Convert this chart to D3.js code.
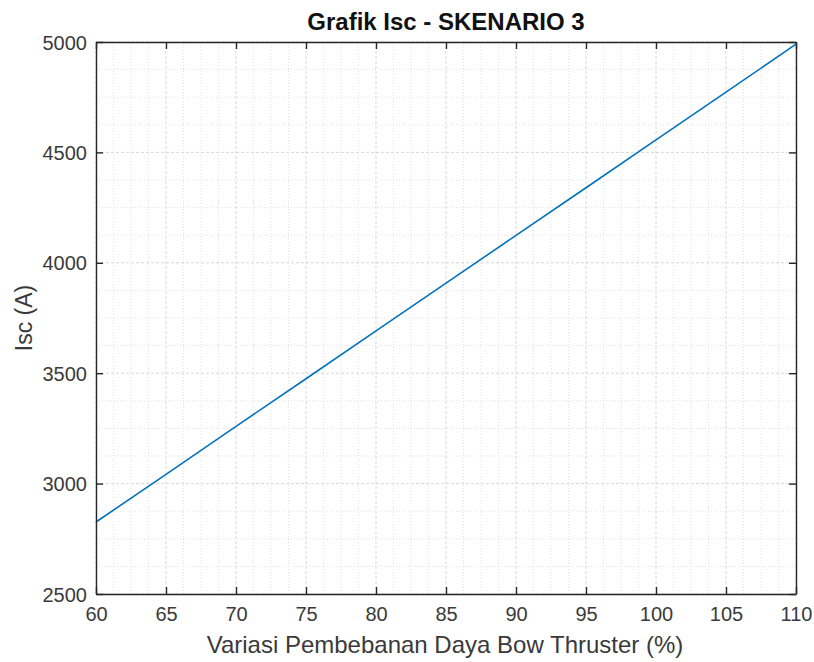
<!DOCTYPE html>
<html><head><meta charset="utf-8">
<script src="https://cdn.jsdelivr.net/npm/d3@7"></script>
<style>body{margin:0;background:#fff;}svg{display:block;}</style>
</head><body>
<script>
const xValues = [60, 65, 70, 75, 80, 85, 90, 95, 100, 105, 110];
const iscValues = [2826, 3042, 3259, 3475, 3692, 3908, 4124, 4340, 4557, 4773, 4990];
const xTicks = [60, 65, 70, 75, 80, 85, 90, 95, 100, 105, 110];
const yTicks = [2500, 3000, 3500, 4000, 4500, 5000];
const titleText = "Grafik Isc - SKENARIO 3";
const xLabel = "Variasi Pembebanan Daya Bow Thruster (%)";
const yLabel = "Isc (A)";

const W = 814, H = 662;
const m = {left: 96, right: 18, top: 42, bottom: 68};
const svg = d3.select("body").append("svg").attr("width", W).attr("height", H);
const x = d3.scaleLinear().domain([60, 110]).range([m.left, W - m.right]);
const y = d3.scaleLinear().domain([2500, 5000]).range([H - m.bottom, m.top]);
const font = "'Liberation Sans', Arial, sans-serif";

// minor grid
const xMinor = d3.range(60, 110.001, 1.25).filter(v => !xTicks.includes(v));
const yMinor = d3.range(2500, 5000.001, 125).filter(v => !yTicks.includes(v));
const g = svg.append("g");
g.selectAll(".xm").data(xMinor).join("line")
  .attr("x1", d => x(d)).attr("x2", d => x(d)).attr("y1", y(2500)).attr("y2", y(5000))
  .attr("stroke", "#e2e2e2").attr("stroke-width", 1).attr("stroke-dasharray", "1,2");
g.selectAll(".ym").data(yMinor).join("line")
  .attr("y1", d => y(d)).attr("y2", d => y(d)).attr("x1", x(60)).attr("x2", x(110))
  .attr("stroke", "#e2e2e2").attr("stroke-width", 1).attr("stroke-dasharray", "1,2");
// major grid
g.selectAll(".xg").data(xTicks).join("line")
  .attr("x1", d => x(d)).attr("x2", d => x(d)).attr("y1", y(2500)).attr("y2", y(5000))
  .attr("stroke", "#d8d8d8").attr("stroke-width", 1).attr("stroke-dasharray", "3,2");
g.selectAll(".yg").data(yTicks).join("line")
  .attr("y1", d => y(d)).attr("y2", d => y(d)).attr("x1", x(60)).attr("x2", x(110))
  .attr("stroke", "#d8d8d8").attr("stroke-width", 1).attr("stroke-dasharray", "3,2");

// line
svg.append("path").datum(xValues.map((v, i) => [v, iscValues[i]]))
  .attr("fill", "none").attr("stroke", "#0072BD").attr("stroke-width", 1.6)
  .attr("d", d3.line().x(d => x(d[0])).y(d => y(d[1])));

// axes
const axCol = "#262626";
const txtCol = "#3a3a3a";
const tl = 7;
const bottomAx = svg.append("g").attr("transform", `translate(0,${y(2500)})`)
  .call(d3.axisBottom(x).tickValues(xTicks).tickSize(-tl).tickPadding(13).tickSizeOuter(0).tickFormat(d3.format("d")));
const leftAx = svg.append("g").attr("transform", `translate(${x(60)},0)`)
  .call(d3.axisLeft(y).tickValues(yTicks).tickSize(-tl).tickPadding(9).tickSizeOuter(0).tickFormat(d3.format("d")));
const topAx = svg.append("g").attr("transform", `translate(0,${y(5000)})`)
  .call(d3.axisTop(x).tickValues(xTicks).tickSize(-tl).tickFormat("").tickSizeOuter(0));
const rightAx = svg.append("g").attr("transform", `translate(${x(110)},0)`)
  .call(d3.axisRight(y).tickValues(yTicks).tickSize(-tl).tickFormat("").tickSizeOuter(0));
[bottomAx, leftAx, topAx, rightAx].forEach(a => {
  a.selectAll("path").attr("stroke", axCol).attr("stroke-width", 1.4);
  a.selectAll("line").attr("stroke", axCol).attr("stroke-width", 1.4);
  a.selectAll("text").attr("fill", txtCol).style("font-family", font).style("font-size", "20px");
});
leftAx.selectAll("text").attr("dy", "0.35em");

// title and labels
svg.append("text").attr("x", (x(60) + x(110)) / 2).attr("y", 30).attr("text-anchor", "middle")
  .style("font-family", font).style("font-size", "24px").style("font-weight", "bold").attr("fill", "#111")
  .text(titleText);
svg.append("text").attr("x", (x(60) + x(110)) / 2 - 1).attr("y", 653).attr("text-anchor", "middle")
  .style("font-family", font).style("font-size", "24px").attr("fill", txtCol).text(xLabel);
svg.append("text").attr("transform", `translate(32,${(y(2500) + y(5000)) / 2}) rotate(-90)`)
  .attr("text-anchor", "middle").style("font-family", font).style("font-size", "23px")
  .attr("fill", txtCol).text(yLabel);
</script>
</body></html>
